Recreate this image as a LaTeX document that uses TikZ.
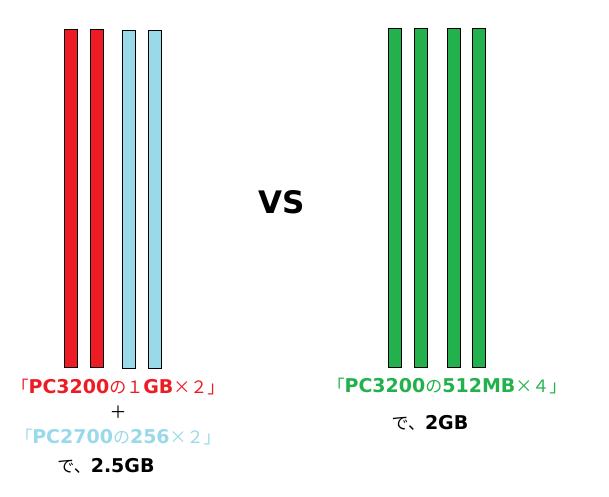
\documentclass[tikz,border=0pt]{standalone}
\usepackage{fontspec}
\setmainfont{DejaVu Sans}
\newfontfamily\jpfont{Noto Sans CJK JP}
\definecolor{ramred}{RGB}{237,28,36}
\definecolor{ramblue}{RGB}{153,217,234}
\definecolor{ramgreen}{RGB}{34,177,76}
\newcommand{\jp}[1]{{\jpfont\mdseries\fontsize{17}{20}\selectfont #1}}
\tikzset{
  bar/.style={draw=black, line width=0.8pt},
  label/.style={font=\fontsize{19}{22}\selectfont\bfseries, inner sep=0pt},
}
\begin{document}
\begin{tikzpicture}[x=1pt,y=-1pt]
    \path[use as bounding box] (0,0) rectangle (609,496);

    % Left modules
    \foreach \x in {64,90}
      \filldraw[bar, fill=ramred] (\x,29) rectangle ++(13,338);
    \foreach \x in {122,148}
      \filldraw[bar, fill=ramblue] (\x,30) rectangle ++(13,338);

    % Right modules
    \foreach \x in {388,414,447,472}
      \filldraw[bar, fill=ramgreen] (\x,28) rectangle ++(13,339);

    % VS
    \node[font=\fontsize{31}{34}\selectfont\bfseries] (vs) at (282,202) {VS};

    % Left description
    \node[label, text=ramred] (left1) at (118,387) {\jp{「}PC3200\jp{の１}GB\jp{×２」}};
    \node[label] (plus) at (118,412) {\jp{＋}};
    \node[label, text=ramblue] (left2) at (118,437) {\jp{「}PC2700\jp{の}256\jp{×２」}};
    \node[label] (left3) at (106,466) {\jp{で、}2.5GB};

    % Right description
    \node[label, text=ramgreen] (right1) at (447,386) {\jp{「}PC3200\jp{の}512MB\jp{×４」}};
    \node[label] (right2) at (430,423) {\jp{で、}2GB};
\end{tikzpicture}
\end{document}
